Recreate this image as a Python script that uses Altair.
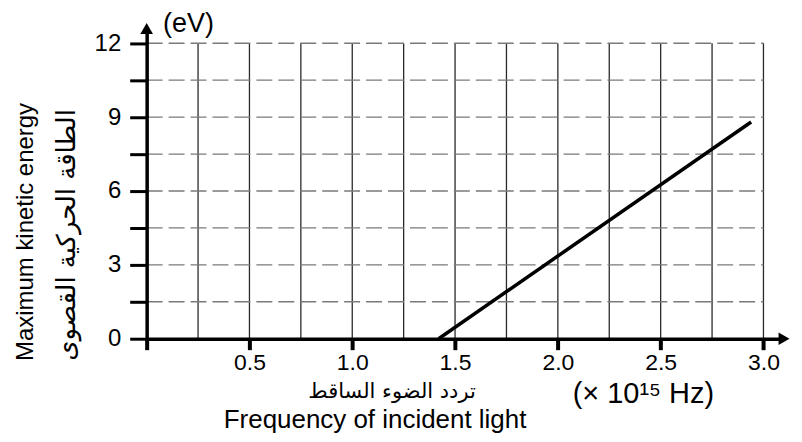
import altair as alt
import pandas as pd

# ---- data ----
line_freq = [1.42, 2.94]          # x 10^15 Hz
line_ke = [0.0, 8.8]              # eV
x_tick_values = [0, 0.5, 1.0, 1.5, 2.0, 2.5, 3.0]
y_tick_values = [0, 1.5, 3, 4.5, 6, 7.5, 9, 10.5, 12]
x_grid = [0.25, 0.5, 0.75, 1.0, 1.25, 1.5, 1.75, 2.0, 2.25, 2.5, 2.75, 3.0]
y_grid = [1.5, 3, 4.5, 6, 7.5, 9, 10.5, 12]
x_max = 3.1
y_max = 12.6
grid_x_end = 3.0
grid_y_end = 12.0

FONT = "Liberation Sans"
AR_FONT = "DejaVu Sans"

xs = alt.Scale(domain=[0, x_max], nice=False, zero=False)
ys = alt.Scale(domain=[0, y_max], nice=False, zero=False)

x_axis = alt.Axis(values=x_tick_values, grid=False, domain=True, domainColor="black",
                  domainWidth=3.5, tickColor="black", tickSize=11, tickWidth=4,
                  labelExpr="datum.value == 0 ? '' : format(datum.value, '.1f')",
                  labelFont=FONT, labelFontSize=23, labelColor="black", labelPadding=2,
                  title=None, zindex=2)
y_axis = alt.Axis(values=y_tick_values, grid=False, domain=True, domainColor="black",
                  domainWidth=3.5, tickColor="black", tickSize=17, tickWidth=3,
                  labelExpr="datum.value % 3 == 0 ? format(datum.value, 'd') : ''",
                  labelFont=FONT, labelFontSize=24, labelColor="black", labelPadding=9,
                  title=None, zindex=2)

vgrid_df = pd.DataFrame({"x": x_grid, "y0": 0.0, "y1": grid_y_end})
hgrid_df = pd.DataFrame({"y": y_grid, "x0": 0.0, "x1": grid_x_end})
line_df = pd.DataFrame({"f": line_freq, "e": line_ke})
xarrow_df = pd.DataFrame({"x": [x_max], "y": [0.0]})
yarrow_df = pd.DataFrame({"x": [0.0], "y": [y_max]})
one = pd.DataFrame({"a": [0]})


def X(field):
    return alt.X(field, scale=xs, axis=x_axis)


def Y(field):
    return alt.Y(field, scale=ys, axis=y_axis)


vgrid = alt.Chart(vgrid_df).mark_rule(color="#2a2a2a", strokeWidth=1.3).encode(
    x=X("x:Q"), y=Y("y0:Q"), y2="y1:Q")
hgrid = alt.Chart(hgrid_df).mark_rule(color="#7a7a7a", strokeWidth=1.3,
                                      strokeDash=[16, 6]).encode(
    y=Y("y:Q"), x=X("x0:Q"), x2="x1:Q")
line = alt.Chart(line_df).mark_line(color="black", strokeWidth=3.5).encode(
    x=X("f:Q"), y=Y("e:Q"))
xarrow = alt.Chart(xarrow_df).mark_point(shape="triangle-right", filled=True, size=160,
                                         color="black", opacity=1).encode(
    x=X("x:Q"), y=Y("y:Q"))
yarrow = alt.Chart(yarrow_df).mark_point(shape="triangle-up", filled=True, size=160,
                                         color="black", opacity=1).encode(
    x=X("x:Q"), y=Y("y:Q"))


def label(txt, x, y, size, font=FONT, angle=0, align="center", baseline="middle"):
    kw = dict(font=font, fontSize=size, color="black", align=align, baseline=baseline)
    if angle:
        kw["angle"] = angle
    return alt.Chart(one).mark_text(**kw).encode(
        x=alt.value(x), y=alt.value(y), text=alt.value(txt))


texts = [
    label("(eV)", 42, 4, 27, baseline="alphabetic"),
    label("Maximum kinetic energy", -121, 204, 24, angle=270),
    label("الطاقة الحركية القصوى", -80, 207, 26, font=AR_FONT, angle=270),
    label("تردد الضوء الساقط", 246, 364, 21, font=AR_FONT),
    label("Frequency of incident light", 229, 401, 26, baseline="alphabetic"),
    label("(×  10¹⁵ Hz)", 498, 375, 29, baseline="alphabetic"),
]

chart = alt.layer(vgrid, hgrid, line, xarrow, yarrow, *texts).properties(
    width=639, height=311,
    padding={"left": 139, "top": 20, "right": 10, "bottom": 95},
    autosize=alt.AutoSizeParams(type="none"),
    background="white",
).configure_view(stroke=None)

chart.save("out.html", embed_options={"renderer": "svg", "actions": False})
